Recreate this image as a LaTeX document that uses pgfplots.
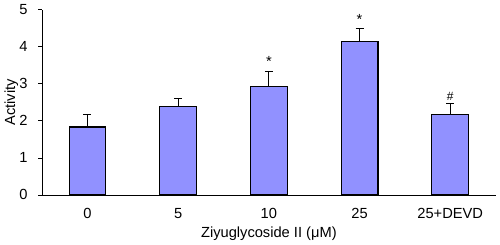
\documentclass[border=0pt]{standalone}
\usepackage{fontspec}
\setmainfont{Liberation Sans}
\usepackage{pgfplots}
\pgfplotsset{compat=1.18}
\definecolor{barblue}{RGB}{145,145,255}

\begin{document}
\begin{tikzpicture}
\begin{axis}[
	scale only axis,
	width=340pt, height=139pt,
	xmin=-0.5, xmax=4.5,
	ymin=0, ymax=5,
	ytick={0,1,2,3,4,5},
	xtick={0,1,2,3,4},
	xticklabels={0,5,10,25,25+DEVD},
	major x tick style={draw=none},
	extra x ticks={0.5,1.5,2.5,3.5,4.5},
	extra x tick labels={},
	extra x tick style={tick align=inside, major tick length=3pt, major tick style={draw=black}},
	axis x line*=bottom,
	axis y line*=left,
	y axis line style={-},
	x axis line style={-},
	ytick align=outside,
	major tick length=3pt,
	tick style={black, line width=0.5pt},
	axis line style={black, line width=0.6pt},
	font=\fontsize{11}{13}\selectfont,
	/pgf/number format/assume math mode=true,
	xlabel={Ziyuglycoside II (μM)},
	ylabel={Activity},
	xlabel style={yshift=1pt},
	ylabel style={yshift=-6pt},
	xticklabel style={yshift=-6.5pt},
	yticklabel style={xshift=-4.5pt},
	clip=false,
]
\addplot [ybar, bar width=0.405, fill=barblue, draw=black, line width=0.9pt,
	error bars/.cd, y dir=plus, y explicit,
	error bar style={line width=0.9pt},
	error mark options={rotate=90, mark size=3pt, line width=0.9pt}]
coordinates {
	(0,1.83) +- (0,0.34)
	(1,2.38) +- (0,0.23)
	(2,2.92) +- (0,0.42)
	(3,4.13) +- (0,0.36)
	(4,2.17) +- (0,0.29)
};
\node [above, inner sep=3pt, font=\fontsize{11}{12}\selectfont] at (axis cs:2,3.34) {*};
\node [above, inner sep=3pt, font=\fontsize{11}{12}\selectfont] at (axis cs:3,4.49) {*};
\node [above, inner sep=2pt, font=\fontsize{9}{10}\selectfont] at (axis cs:4,2.46) {\#};
\end{axis}
\end{tikzpicture}
\end{document}
